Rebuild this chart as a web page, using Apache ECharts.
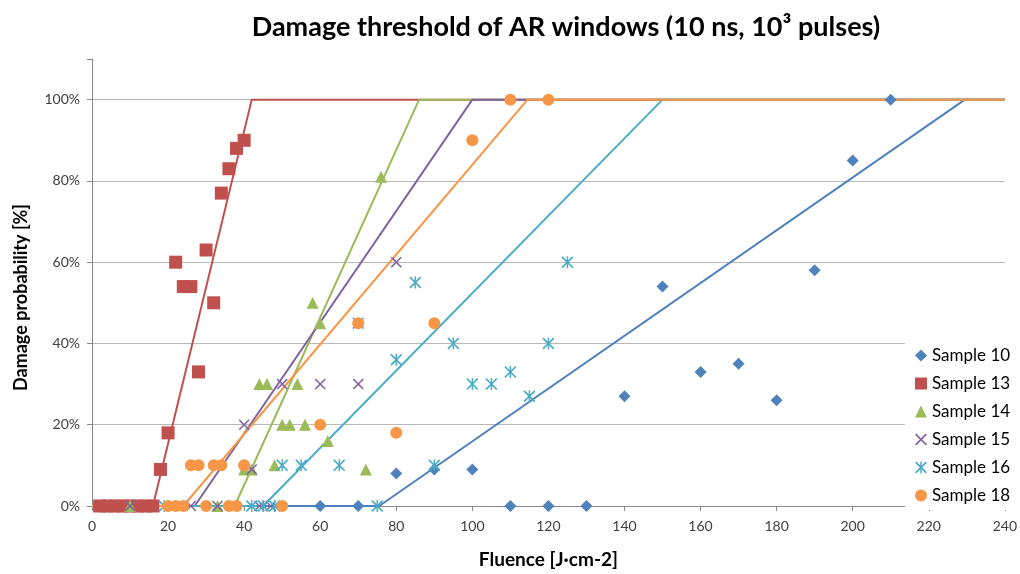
<!DOCTYPE html>
<html>
<head>
<meta charset="utf-8">
<script src="https://cdn.jsdelivr.net/npm/echarts@6/dist/echarts.min.js"></script>
<style>
  html, body { margin: 0; padding: 0; background: #fff; }
  #chart { width: 1020px; height: 574px; }
</style>
</head>
<body>
<div id="chart"></div>
<script>
// measured points [fluence, damage %]
const sample10 = [[60,0],[70,0],[80,8],[90,9],[100,9],[110,0],[120,0],[130,0],[140,27],[150,54],[160,33],[170,35],[180,26],[190,58],[200,85],[210,100]];
const sample13 = [[2,0],[4,0],[6,0],[8,0],[10,0],[12,0],[14,0],[16,0],[18,9],[20,18],[22,60],[24,54],[26,54],[28,33],[30,63],[32,50],[34,77],[36,83],[38,88],[40,90]];
const sample14 = [[10,0],[33,0],[40,9],[42,9],[44,30],[46,30],[48,10],[50,20],[52,20],[54,30],[56,20],[58,50],[60,45],[62,16],[72,9],[76,81]];
const sample15 = [[10,0],[26,0],[33,0],[40,20],[42,9],[44,0],[47,0],[50,30],[60,30],[70,30],[80,60]];
const sample16 = [[19,0],[42,0],[45,0],[48,0],[50,10],[55,10],[65,10],[70,45],[75,0],[80,36],[85,55],[90,10],[95,40],[100,30],[105,30],[110,33],[115,27],[120,40],[125,60]];
const sample18 = [[20,0],[22,0],[24,0],[26,10],[28,10],[30,0],[32,10],[34,10],[36,0],[38,0],[40,10],[50,0],[60,20],[70,45],[80,18],[90,45],[100,90],[110,100],[120,100]];

// threshold fit lines
const fit10 = [[0,0],[75.5,0],[229.5,100],[240,100]];
const fit13 = [[0,0],[16,0],[42,100],[240,100]];
const fit14 = [[0,0],[37.5,0],[86,100],[240,100]];
const fit15 = [[0,0],[27,0],[100,100],[240,100]];
const fit16 = [[0,0],[45,0],[150,100],[240,100]];
const fit18 = [[0,0],[24,0],[114.5,100],[240,100]];

const names = ['Sample 10', 'Sample 13', 'Sample 14', 'Sample 15', 'Sample 16', 'Sample 18'];
const colors = ['#4F81BD', '#C0504D', '#9BBB59', '#8064A2', '#4BACC6', '#F79646'];
const points = [sample10, sample13, sample14, sample15, sample16, sample18];
const fits = [fit10, fit13, fit14, fit15, fit16, fit18];

const xMark = 'path://M0,1L1,0L5,4L9,0L10,1L6,5L10,9L9,10L5,6L1,10L0,9L4,5Z';
const starMark = 'path://M0,1L1,0L4.4,3.4L4.4,0L5.6,0L5.6,3.4L9,0L10,1L6,5L10,9L9,10L5.6,6.6L5.6,10L4.4,10L4.4,6.6L1,10L0,9L4,5Z';
const symbols = ['diamond', 'rect', 'triangle', xMark, starMark, 'circle'];
const sizes = [12, 13, 12, 11, 12, 12];

const font = 'Lato, "Open Sans", sans-serif';

const series = [];
fits.forEach((d, i) => {
    series.push({
        name: names[i] + ' fit',
        type: 'line',
        data: d,
        symbol: 'none',
        silent: true,
        lineStyle: {color: colors[i], width: 2},
        z: 2
    });
});
points.forEach((d, i) => {
    series.push({
        name: names[i],
        type: 'scatter',
        data: d,
        symbol: symbols[i],
        symbolSize: sizes[i],
        itemStyle: {color: colors[i], opacity: 1},
        z: 3
    });
});

const chart = echarts.init(document.getElementById('chart'));
chart.setOption({
    animation: false,
    backgroundColor: '#fff',
    textStyle: {fontFamily: font},
    title: {
        text: 'Damage threshold of AR windows (10 ns, 10³ pulses)',
        left: 561,
        textAlign: 'center',
        top: 9,
        textStyle: {fontFamily: font, fontSize: 27, fontWeight: 'bold', color: '#000'}
    },
    grid: {left: 92, right: 15, top: 59, bottom: 57},
    legend: {
        data: names,
        orient: 'vertical',
        left: 905,
        top: 341,
        backgroundColor: '#fff',
        padding: [6, 4, 6, 10],
        itemWidth: 12,
        itemHeight: 12,
        itemGap: 11,
        textStyle: {fontFamily: font, fontSize: 17, color: '#000'}
    },
    xAxis: {
        type: 'value',
        min: 0,
        max: 240,
        interval: 20,
        name: 'Fluence [J·cm-2]',
        nameLocation: 'middle',
        nameGap: 44,
        nameTextStyle: {fontFamily: font, fontSize: 19, fontWeight: 'bold', color: '#000'},
        axisLine: {lineStyle: {color: '#888', width: 1}},
        axisTick: {show: true, length: 5, lineStyle: {color: '#888'}},
        axisLabel: {fontFamily: font, fontSize: 14, color: '#404040', margin: 13},
        splitLine: {show: false}
    },
    yAxis: {
        type: 'value',
        min: 0,
        max: 110,
        interval: 20,
        name: 'Damage probability [%]',
        nameLocation: 'middle',
        nameGap: 62,
        nameTextStyle: {fontFamily: font, fontSize: 18, fontWeight: 'bold', color: '#000', padding: [0, 30, 0, 0]},
        axisLine: {show: true, lineStyle: {color: '#888', width: 1}},
        axisTick: {show: true, length: 5, lineStyle: {color: '#888'}},
        axisLabel: {
            fontFamily: font, fontSize: 14, color: '#404040', margin: 12,
            formatter: v => v > 100 ? '' : v + '%'
        },
        splitLine: {show: true, showMaxLine: false, lineStyle: {color: '#b8b8b8', width: 1}}
    },
    series: series
});
</script>
</body>
</html>
